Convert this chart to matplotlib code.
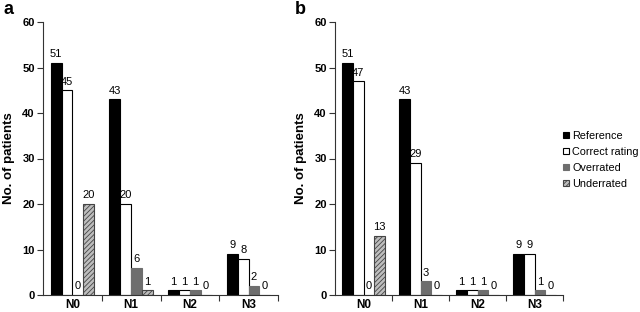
import matplotlib
matplotlib.use("Agg")
import matplotlib.pyplot as plt
import numpy as np
from matplotlib.patches import Patch

plt.rcParams['font.family'] = ['Liberation Sans', 'DejaVu Sans']
plt.rcParams['hatch.color'] = '#444444'
plt.rcParams['hatch.linewidth'] = 0.6

categories = ["N0", "N1", "N2", "N3"]
series = ["Reference", "Correct rating", "Overrated", "Underrated"]
panel_a = {
    "Reference": [51, 43, 1, 9],
    "Correct rating": [45, 20, 1, 8],
    "Overrated": [0, 6, 1, 2],
    "Underrated": [20, 1, 0, 0],
}
panel_b = {
    "Reference": [51, 43, 1, 9],
    "Correct rating": [47, 29, 1, 9],
    "Overrated": [0, 3, 1, 1],
    "Underrated": [13, 0, 0, 0],
}
yticks = [0, 10, 20, 30, 40, 50, 60]

styles = {
    "Reference": dict(facecolor="black", edgecolor="black"),
    "Correct rating": dict(facecolor="white", edgecolor="black"),
    "Overrated": dict(facecolor="#6e6e6e", edgecolor="#6e6e6e"),
    "Underrated": dict(facecolor="#bdbdbd", edgecolor="#444444", hatch="///////"),
}

fig = plt.figure(figsize=(6.4, 3.12), dpi=100)
W, H = 640, 312
axa = fig.add_axes([43 / W, (312 - 295) / H, (278 - 43) / W, (295 - 22) / H])
axb = fig.add_axes([335 / W, (312 - 295) / H, (563 - 335) / W, (295 - 22) / H])

bw = 0.185
x = np.arange(len(categories))

def draw(ax, data, letter, lx):
    for i, s in enumerate(series):
        vals = data[s]
        pos = x + (i - 1.5) * bw
        ax.bar(pos, vals, width=bw, linewidth=0.8, **styles[s])
        for p, v in zip(pos, vals):
            ax.text(p, v + 0.8, str(v), ha="center", va="bottom", fontsize=8)
    ax.set_xlim(-0.5, 3.5)
    ax.set_ylim(0, 60)
    ax.set_yticks(yticks)
    ax.set_yticklabels([str(t) for t in yticks], fontsize=8, fontweight="bold")
    ax.set_xticks(x)
    ax.set_xticklabels(categories, fontsize=8.5, fontweight="bold")
    ax.tick_params(axis="x", length=0, pad=3)
    ax.set_xticks([0.5, 1.5, 2.5, 3.5], minor=True)
    ax.tick_params(axis="x", which="minor", length=4, direction="out", width=0.8, color="#333333")
    ax.tick_params(axis="y", length=4, direction="out", width=0.8, color="#333333", pad=2)
    for sp in ["top", "right"]:
        ax.spines[sp].set_visible(False)
    for sp in ["left", "bottom"]:
        ax.spines[sp].set_color("#333333")
        ax.spines[sp].set_linewidth(0.8)
    ax.set_ylabel("No. of patients", fontsize=9.5, fontweight="bold", labelpad=5)
    fig.text(lx / W, 1 - 10 / H, letter, fontsize=13, fontweight="bold", ha="left", va="center")

draw(axa, panel_a, "a", 3)
draw(axb, panel_b, "b", 295)

handles = [Patch(**styles[s], linewidth=0.8) for s in series]
fig.legend(handles, series, loc="upper left", bbox_to_anchor=(563 / W, 1 - 131 / H),
           frameon=False, fontsize=7.8, handlelength=0.55, handleheight=0.55,
           handletextpad=0.3, labelspacing=0.55, borderaxespad=0, borderpad=0)

fig.savefig("out.png", dpi=100)
